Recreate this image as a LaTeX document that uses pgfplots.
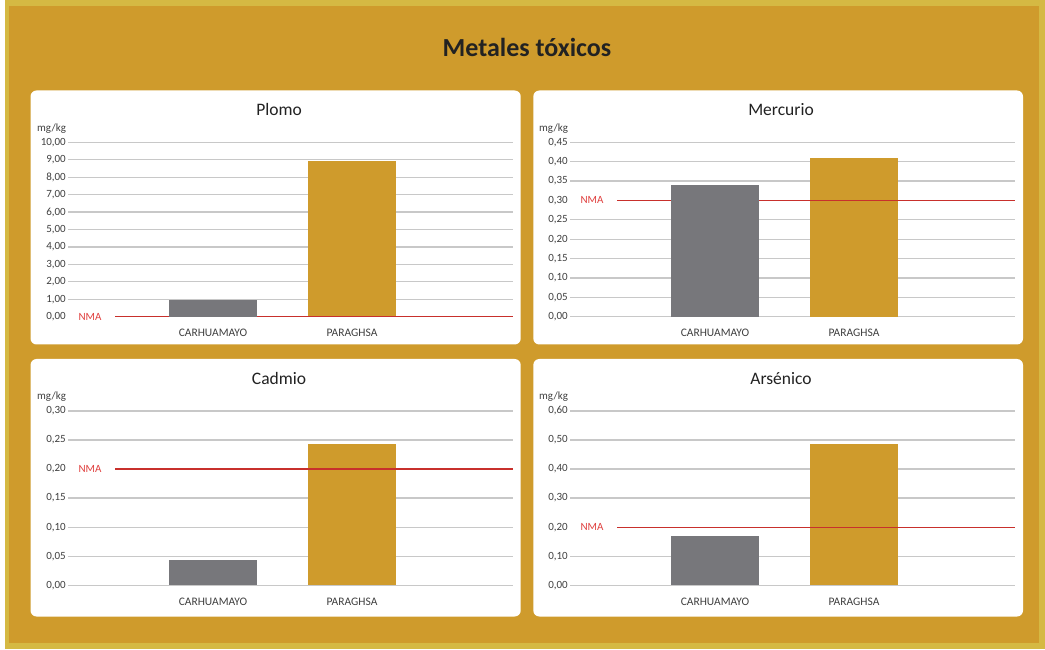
\documentclass[border=0pt]{standalone}
\usepackage{fontspec}
\setmainfont{Carlito}
\usepackage{pgfplots}
\pgfplotsset{compat=1.18}

\definecolor{oro}{HTML}{CF9B2C}
\definecolor{marco}{HTML}{D5B943}
\definecolor{gris}{HTML}{77777B}
\definecolor{rojo}{HTML}{C8302C}
\definecolor{rojotxt}{HTML}{E0403F}
\definecolor{rejilla}{HTML}{C8C8C8}
\definecolor{texto}{HTML}{404040}
\definecolor{titulo}{HTML}{222222}

% one panel = one axis, placed by its lower left corner
\pgfplotsset{
  panel/.style={
    scale only axis, width=445pt, height=174.4pt,
    anchor=south west,
    xmin=-1.0432, xmax=2.1583, ymin=0,
    xtick={0,1}, xticklabels={CARHUAMAYO,PARAGHSA},
    axis line style={draw=none},
    major tick length=0pt,
    ymajorgrids, grid style={rejilla, line width=1.3pt},
    tick label style={font=\fontsize{11}{13}\selectfont, text=texto},
    xticklabel style={anchor=base, inner sep=0pt, yshift=-20pt, font=\fontsize{11.5}{13}\selectfont},
    yticklabel style={anchor=east, inner sep=0pt, xshift=-2pt,
      /pgf/number format/fixed, /pgf/number format/fixed zerofill,
      /pgf/number format/precision=2, /pgf/number format/use comma,
      /pgf/number format/assume math mode=true},
    clip=false,
  },
  barra/.style={ybar, bar width=88pt, bar shift=0pt, draw=none, fill=#1},
}
\newcommand{\nma}[1]{%
  \addplot[white, line width=2.5pt] coordinates {(-1.0432,#1) (-0.705,#1)};
  \node[anchor=east, inner sep=0pt, text=rojotxt, font=\fontsize{11}{13}\selectfont]
    at (axis cs:-0.705,#1) [xshift=-13.3pt] {NMA};
}

\begin{document}
\begin{tikzpicture}[x=1pt, y=1pt]
\useasboundingbox (0,0) rectangle (1045,649);
\fill[white] (0,0) rectangle (1045,649);
\fill[marco] (4.6,0) rectangle (1045,649);
\fill[oro] (9.3,6) rectangle (1039,643);
\fill[white, rounded corners=6pt] (30.5,304.5) rectangle (520.7,558.5);
\fill[white, rounded corners=6pt] (533.3,304.5) rectangle (1023,558.5);
\fill[white, rounded corners=6pt] (30.5,32.5) rectangle (520.7,290);
\fill[white, rounded corners=6pt] (533.3,32.5) rectangle (1023,290);

\node[anchor=base, text=titulo, font=\fontsize{26}{30}\selectfont\bfseries] at (527,592.3) {Metales tóxicos};

\node[anchor=base, text=titulo, font=\fontsize{17.5}{20}\selectfont] at (279,533) {Plomo};
\node[anchor=base, text=titulo, font=\fontsize{17.5}{20}\selectfont] at (781,533) {Mercurio};
\node[anchor=base, text=titulo, font=\fontsize{17.5}{20}\selectfont] at (279,264.5) {Cadmio};
\node[anchor=base, text=titulo, font=\fontsize{17.5}{20}\selectfont] at (781,264.5) {Arsénico};

\foreach \px/\py in {37/517.7, 539/517.7, 37/249.2, 539/249.2}
  \node[anchor=base west, inner sep=0pt, text=texto, font=\fontsize{11}{13}\selectfont] at (\px,\py) {mg/kg};

% Plomo
\begin{axis}[panel, at={(68pt,332.3pt)}, ymax=10, ytick={0,1,...,10}]
  \addplot[barra=oro] coordinates {(1,8.93)};
  \addplot[rojo, line width=1.3pt] coordinates {(-0.705,0) (2.1583,0)};
  \addplot[barra=gris] coordinates {(0,0.93)};
  \nma{0}
\end{axis}

% Mercurio
\begin{axis}[panel, at={(570pt,332.3pt)}, ymax=0.45,
  ytick={0,0.05,0.1,0.15,0.2,0.25,0.3,0.35,0.4,0.45}]
  \addplot[barra=oro] coordinates {(1,0.41)};
  \addplot[rojo, line width=1.3pt] coordinates {(-0.705,0.3) (2.1583,0.3)};
  \addplot[barra=gris] coordinates {(0,0.34)};
  \nma{0.3}
\end{axis}

% Cadmio
\begin{axis}[panel, at={(68pt,63.7pt)}, ymax=0.3,
  ytick={0,0.05,0.1,0.15,0.2,0.25,0.3}]
  \addplot[barra=oro] coordinates {(1,0.243)};
  \addplot[rojo, line width=1.3pt] coordinates {(-0.705,0.2) (2.1583,0.2)};
  \addplot[barra=gris] coordinates {(0,0.044)};
  \nma{0.2}
\end{axis}

% Arsenico
\begin{axis}[panel, at={(570pt,63.7pt)}, ymax=0.6,
  ytick={0,0.1,0.2,0.3,0.4,0.5,0.6}]
  \addplot[barra=oro] coordinates {(1,0.486)};
  \addplot[rojo, line width=1.3pt] coordinates {(-0.705,0.2) (2.1583,0.2)};
  \addplot[barra=gris] coordinates {(0,0.171)};
  \nma{0.2}
\end{axis}
\end{tikzpicture}
\end{document}
